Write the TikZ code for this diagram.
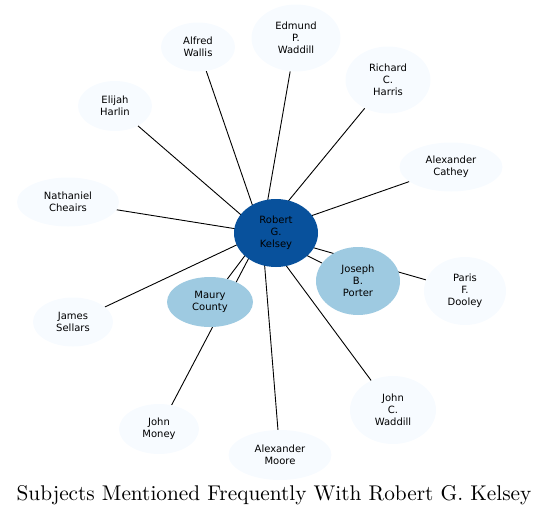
\documentclass[tikz,border=0pt]{standalone}
\usepackage{fontspec}
\newfontfamily\dejavu{DejaVu Sans}
\newfontfamily\titlefont{lmroman10-regular}[Extension=.otf]
\usetikzlibrary{shapes.geometric, positioning, backgrounds}

\definecolor{blueDark}{HTML}{08519C}
\definecolor{blueMid}{HTML}{9ECAE1}
\definecolor{bluePale}{HTML}{F7FBFF}

\begin{document}
\begin{tikzpicture} [x=1pt, y=-1pt,
            on grid,
            subject/.style={ellipse, fill=bluePale, inner sep=0pt,
                align=center, text=black,
                font=\dejavu\fontsize{10}{12}\selectfont},
            link/.style={draw=black, line width=0.9pt}]

        \useasboundingbox (0,0) rectangle (549,515);

        % Center Robert G. Kelsey
        \node (kelsey) [subject, fill=blueDark,
            minimum width=84pt, minimum height=68pt] at (276,233) {Robert\\G.\\Kelsey};
        \coordinate (kc) at ([xshift=-14pt]kelsey.center);

        % Subject Joseph B. Porter
        \node (porter) [subject, fill=blueMid,
            minimum width=84pt, minimum height=68pt,
            below right = 48pt and 82pt of kelsey] {Joseph\\B.\\Porter};

        % Subject Maury County
        \node (maury) [subject, fill=blueMid,
            minimum width=86pt, minimum height=50pt,
            below left = 69pt and 66pt of kelsey] {Maury\\County};

        % Subject Alfred Wallis
        \node (alfred) [subject,
            minimum width=74pt, minimum height=49pt,
            above left = 186pt and 78pt of kelsey] {Alfred\\Wallis};

        % Subject Edmund P. Waddill
        \node (edmund) [subject,
            minimum width=89pt, minimum height=67pt,
            above right = 195pt and 20pt of kelsey] {Edmund\\P.\\Waddill};

        % Subject Richard C. Harris
        \node (richard) [subject,
            minimum width=85pt, minimum height=67pt,
            above right = 153pt and 112pt of kelsey] {Richard\\C.\\Harris};

        % Subject Elijah Harlin
        \node (elijah) [subject,
            minimum width=74pt, minimum height=50pt,
            above left = 127pt and 161pt of kelsey] {Elijah\\Harlin};

        % Subject Alexander Cathey
        \node (cathey) [subject,
            minimum width=103pt, minimum height=49pt,
            above right = 66pt and 175pt of kelsey] {Alexander\\Cathey};

        % Subject Nathaniel Cheairs
        \node (nathaniel) [subject,
            minimum width=102pt, minimum height=49pt,
            above left = 31pt and 208pt of kelsey] {Nathaniel\\Cheairs};

        % Subject James Sellars
        \node (sellars) [subject,
            minimum width=80pt, minimum height=49pt,
            below left = 89pt and 203pt of kelsey] {James\\Sellars};

        % Subject Paris F. Dooley
        \node (paris) [subject,
            minimum width=82pt, minimum height=68pt,
            below right = 58pt and 189pt of kelsey] {Paris\\F.\\Dooley};

        % Subject John Money
        \node (money) [subject,
            minimum width=80pt, minimum height=50pt,
            below left = 196pt and 117pt of kelsey] {John\\Money};

        % Subject Alexander Moore
        \node (moore) [subject,
            minimum width=103pt, minimum height=50pt,
            below right = 222pt and 4pt of kelsey] {Alexander\\Moore};

        % Subject John C. Waddill
        \node (john) [subject,
            minimum width=86pt, minimum height=68pt,
            below right = 177pt and 117pt of kelsey] {John\\C.\\Waddill};

        % Title
        \node (title) [anchor=base, font=\titlefont\fontsize{21.3}{25}\selectfont]
            at (274,500) {Subjects Mentioned Frequently With Robert G. Kelsey};

        % Links
        \begin{scope}[on background layer]
        \path [link]
            (kc) edge (porter)
            (kc) edge (maury)
            (kc) edge (alfred)
            (kc) edge (edmund)
            (kc) edge (richard)
            (kc) edge (elijah)
            (kc) edge (cathey)
            (kc) edge (nathaniel)
            (kc) edge (sellars)
            (kc) edge (paris)
            (kc) edge (money)
            (kc) edge (moore)
            (kc) edge (john)
            ;
        \end{scope}
\end{tikzpicture}
\end{document}
